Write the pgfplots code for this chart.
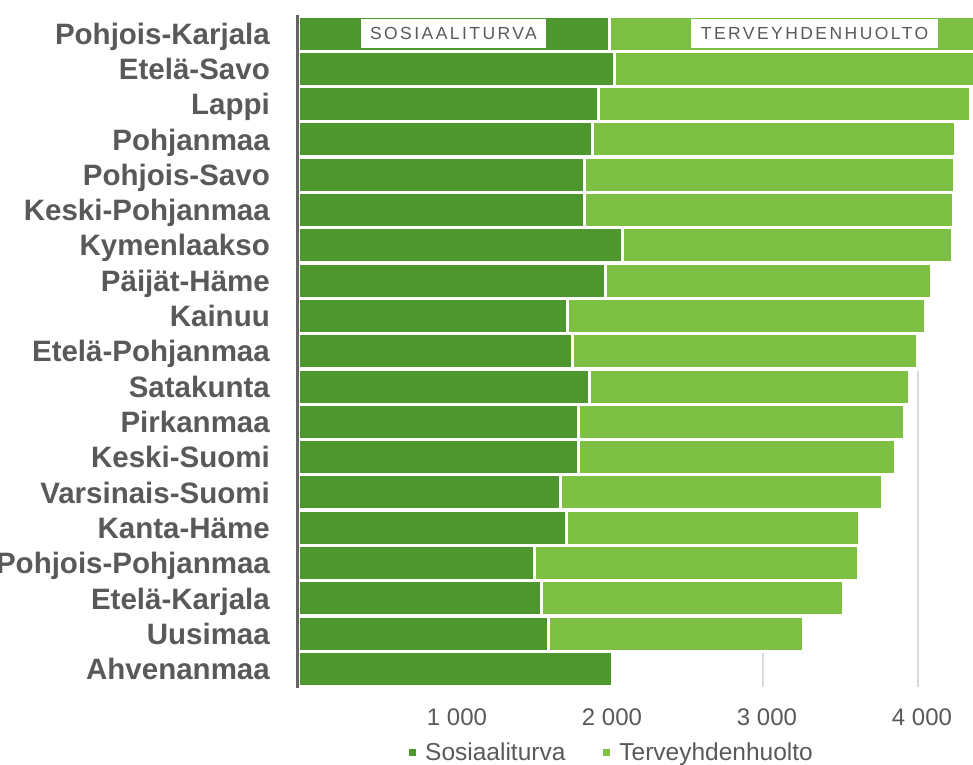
\documentclass[border=0pt]{standalone}
\usepackage{fontspec}
\setmainfont{Liberation Sans}
\usepackage{pgfplots}
\usepackage{pgfplotstable}
\pgfplotsset{compat=1.18}
\definecolor{dkgreen}{RGB}{78,150,46}
\definecolor{ltgreen}{RGB}{125,192,67}
\definecolor{txtgray}{RGB}{89,89,89}
\definecolor{gridgray}{RGB}{218,218,222}
\definecolor{axgray}{RGB}{100,100,100}

\pgfplotstableread{
idx soc health
0 2011 2480
1 2043 2390
2 1940 2400
3 1901 2342
4 1850 2387
5 1850 2380
6 2095 2129
7 1985 2103
8 1740 2310
9 1772 2228
10 1882 2064
11 1811 2103
12 1808 2048
13 1695 2077
14 1734 1890
15 1527 2090
16 1572 1949
17 1617 1646
18 2030 0
}\data

\begin{document}
\begin{tikzpicture}
\begin{axis}[
  at={(298pt,-686.65pt)}, anchor=south west,
  width=675pt, height=670.8pt, scale only axis,
  xbar stacked, bar width=35.3pt,
  xmin=0, xmax=4355,
  ymin=-0.5, ymax=18.5, y dir=reverse,
  ytick={0,...,18},
  yticklabels={Pohjois-Karjala,Etelä-Savo,Lappi,Pohjanmaa,Pohjois-Savo,Keski-Pohjanmaa,Kymenlaakso,Päijät-Häme,Kainuu,Etelä-Pohjanmaa,Satakunta,Pirkanmaa,Keski-Suomi,Varsinais-Suomi,Kanta-Häme,Pohjois-Pohjanmaa,Etelä-Karjala,Uusimaa,Ahvenanmaa},
  axis line style={draw=none},
  major tick length=0pt,
  xtick={1000,2000,3000,4000},
  xticklabels={1 000,2 000,3 000,4 000},
  xmajorgrids, grid style={gridgray, line width=1.5pt},
  yticklabel style={font=\fontsize{29.5}{30}\selectfont\bfseries, text=txtgray, anchor=base east, inner sep=0pt, xshift=-28pt, yshift=-10.6pt},
  xticklabel style={font=\fontsize{24}{25}\selectfont, text=txtgray, anchor=base, inner sep=0pt, yshift=-38.4pt, xshift=4pt},
  legend style={draw=none, fill=none, at={(0.1644,-0.0974)}, anchor=west, legend columns=2, font=\fontsize{24.5}{26}\selectfont, text=txtgray, /tikz/every even column/.append style={column sep=36pt}, inner sep=0pt, cells={anchor=west}},
  legend image code/.code={\fill[#1, draw=none] (0pt,-3.5pt) rectangle (7pt,3.5pt); \path[draw=none, fill=none] (0pt,0pt) -- (14pt,0pt);},
]
\addplot[fill=dkgreen, draw=white, line width=3.3pt] table[x=soc, y=idx] {\data};
\addplot[fill=ltgreen, draw=white, line width=3.3pt] table[x=health, y=idx] {\data};
\legend{Sosiaaliturva, Terveyhdenhuolto}
\coordinate (s1) at (axis cs:1003,0);
\coordinate (s2) at (axis cs:3333,0);
\coordinate (abot) at (axis description cs:0,0);
\coordinate (atop) at (axis description cs:0,1);
\end{axis}
\node[fill=white, minimum width=185pt, minimum height=29pt, inner sep=0pt, font=\fontsize{17.5}{18}\selectfont\addfontfeature{LetterSpace=14}, text=txtgray] at (s1) {SOSIAALITURVA};
\node[fill=white, minimum width=247pt, minimum height=29pt, inner sep=0pt, font=\fontsize{17.5}{18}\selectfont\addfontfeature{LetterSpace=14}, text=txtgray] at (s2) {TERVEYHDENHUOLTO};
\draw[axgray, line width=3pt] ([xshift=-1pt,yshift=-1pt]abot) -- ([xshift=-1pt,yshift=1pt]atop);
\pgfresetboundingbox
\path (0pt,0pt) rectangle (973pt,-764pt);
\end{tikzpicture}
\end{document}
